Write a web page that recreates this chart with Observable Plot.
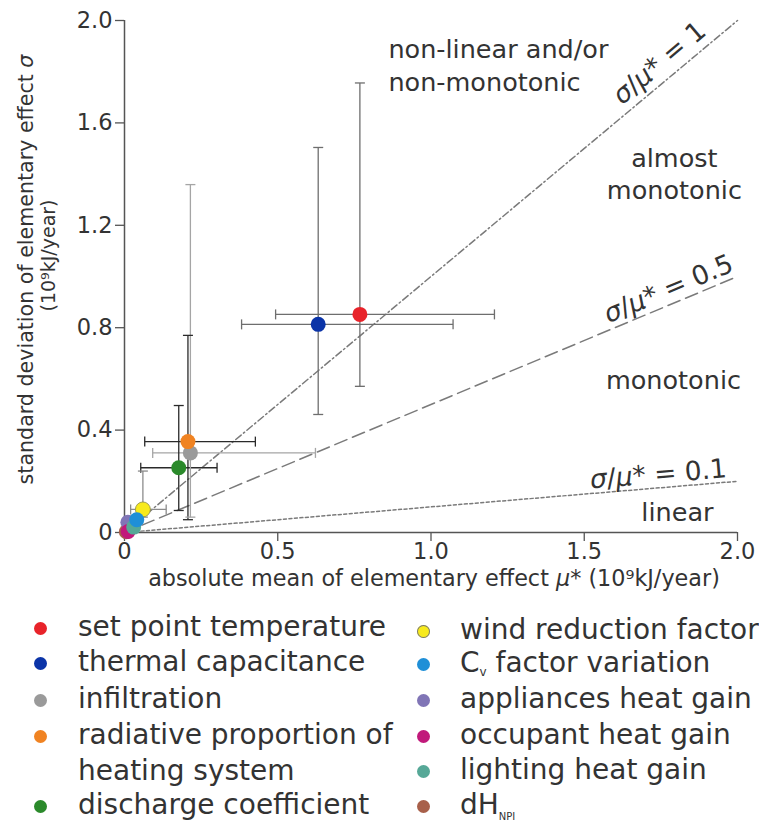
<!DOCTYPE html>
<html>
<head>
<meta charset="utf-8">
<script src="https://cdn.jsdelivr.net/npm/d3@7"></script>
<script src="https://cdn.jsdelivr.net/npm/@observablehq/plot@0.6"></script>
<style>
  html, body { margin: 0; padding: 0; background: #fff; }
  body { width: 759px; height: 823px; overflow: hidden; font-family: "DejaVu Sans", sans-serif; color: #333; }
  #legend { position: relative; width: 759px; height: 223px; }
  .item { position: absolute; height: 36px; line-height: 36px; font-size: 28px; white-space: nowrap; color: #333; }
  .mk { position: absolute; width: 13px; height: 13px; border-radius: 50%; }
  sub.s { font-size: 12px; vertical-align: -4px; }
  sub.t { font-size: 10px; vertical-align: -6px; }
</style>
</head>
<body>
<div id="chart"></div>
<div id="legend"></div>
<script>
// ---- data ----
const names = ["set point temperature", "thermal capacitance", "infiltration",
  "radiative proportion of heating system", "discharge coefficient",
  "wind reduction factor", "Cv factor variation", "appliances heat gain",
  "occupant heat gain", "lighting heat gain", "dH_NPI"];
const colors = ["#e8232a", "#0b34a8", "#9a9a9a", "#f08322", "#2b8a2b",
  "#f7ea1c", "#1f8fd7", "#8075b6", "#c1197b", "#56a897", "#a8604a"];
const muStar = [0.768, 0.632, 0.215, 0.207, 0.177, 0.060, 0.040, 0.011, 0.012, 0.030, 0.006];
const sigma  = [0.852, 0.813, 0.311, 0.355, 0.253, 0.090, 0.050, 0.040, 0.004, 0.021, 0.003];
const muLo   = [0.493, 0.382, 0.092, 0.066, 0.053, 0.020, null, null, null, null, null];
const muHi   = [1.207, 1.072, 0.623, 0.427, 0.302, 0.136, null, null, null, null, null];
const sigLo  = [0.571, 0.461, 0.060, 0.050, 0.086, 0.060, null, null, null, null, null];
const sigHi  = [1.756, 1.504, 1.359, 0.770, 0.496, 0.240, null, null, null, null, null];
const errColors = ["#6e6e6e", "#6e6e6e", "#a5a5a5", "#2a2a2a", "#2a2a2a", "#8c8c8c", null, null, null, null, null];
const drawOrder = [10, 0, 1, 2, 3, 4, 5, 7, 8, 9, 6];

const xTicks = [0, 0.5, 1, 1.5, 2];
const yTicks = [0, 0.4, 0.8, 1.2, 1.6, 2];

const ratios = [1, 0.5, 0.1];
const ratioLabels = ["σ/μ* = 1", "σ/μ* = 0.5", "σ/μ* = 0.1"];
const ratioLabelX = [1.745, 1.775, 1.742];
const ratioLabelY = [1.834, 0.951, 0.227];

const regionText = ["non-linear and/or", "non-monotonic", "almost", "monotonic", "monotonic", "linear"];
const regionX = [0.861, 0.861, 1.794, 1.794, 1.791, 1.804];
const regionY = [1.887, 1.758, 1.461, 1.336, 0.594, 0.078];
const regionStart = [true, true, false, false, false, false];

const xTitle = "absolute mean of elementary effect μ* (10⁹kJ/year)";
const yTitle1 = "standard deviation of elementary effect σ";
const yTitle2 = "(10⁹kJ/year)";

// ---- tables ----
const points = drawOrder.map(i => ({name: names[i], x: muStar[i], y: sigma[i], c: colors[i], yellow: i === 5}));
const errs = names.map((n, i) => ({i, x: muStar[i], y: sigma[i], xl: muLo[i], xh: muHi[i], yl: sigLo[i], yh: sigHi[i], c: errColors[i]}))
  .filter(d => d.xl != null);
const capsX = errs.flatMap(d => [{x: d.xl, y: d.y, c: d.c}, {x: d.xh, y: d.y, c: d.c}]);
const capsY = errs.flatMap(d => [{x: d.x, y: d.yl, c: d.c}, {x: d.x, y: d.yh, c: d.c}]);
const refLines = ratios.flatMap((r, k) => [{k, x: 0, y: 0}, {k, x: 2, y: 2 * r}]);
const ratioLab = ratioLabels.map((t, k) => ({t, x: ratioLabelX[k], y: ratioLabelY[k], k}));
const regions = regionText.map((t, k) => ({t, x: regionX[k], y: regionY[k], start: regionStart[k]}));

const vbar = {draw(ctx, size) { const r = Math.sqrt(size / Math.PI); ctx.moveTo(0, -r); ctx.lineTo(0, r); }};
const hbar = {draw(ctx, size) { const r = Math.sqrt(size / Math.PI); ctx.moveTo(-r, 0); ctx.lineTo(r, 0); }};
const fmt = d => d === 0 ? "0" : d.toFixed(1);

const dashes = ["7,3,1.5,3", "13,6", "3,2.5"];
const angles = [-40, -22.7, -4.8];

const chart = Plot.plot({
  width: 759, height: 600,
  marginLeft: 124, marginRight: 22, marginTop: 20, marginBottom: 68,
  x: {domain: [0, 2], label: null},
  y: {domain: [0, 2], label: null},
  style: {fontFamily: "DejaVu Sans", color: "#333", background: "white", overflow: "visible"},
  marks: [
    Plot.axisX({ticks: xTicks, tickFormat: fmt, tickSize: 9, tickPadding: 2, fontSize: 22.5, label: null, stroke: "#555", strokeWidth: 1.3}),
    Plot.axisY({ticks: yTicks, tickFormat: fmt, tickSize: 9, tickPadding: 3, fontSize: 22.5, label: null, stroke: "#555", strokeWidth: 1.3}),
    Plot.ruleX([0], {stroke: "#555", strokeWidth: 1.5}),
    Plot.ruleY([0], {stroke: "#555", strokeWidth: 1.5}),
    ...ratios.map((r, k) => Plot.line(refLines.filter(d => d.k === k), {x: "x", y: "y", stroke: "#7a7a7a", strokeWidth: 1.5, strokeDasharray: dashes[k]})),
    Plot.link(errs, {x1: "xl", x2: "xh", y1: "y", y2: "y", stroke: "c", strokeWidth: 1.3}),
    Plot.link(errs, {x1: "x", x2: "x", y1: "yl", y2: "yh", stroke: "c", strokeWidth: 1.3}),
    Plot.dot(capsX, {x: "x", y: "y", symbol: vbar, r: 5, stroke: "c", fill: "none", strokeWidth: 1.3}),
    Plot.dot(capsY, {x: "x", y: "y", symbol: hbar, r: 5, stroke: "c", fill: "none", strokeWidth: 1.3}),
    Plot.dot(points, {x: "x", y: "y", fill: "c", r: 7.5, stroke: d => d.yellow ? "#8a8a4a" : "none", strokeWidth: 0.8}),
    ...ratioLab.map(d => Plot.text([d], {x: "x", y: "y", text: "t", rotate: angles[d.k], fontSize: 26.5, fill: "#333"})),
    Plot.text(regions.filter(d => d.start), {x: "x", y: "y", text: "t", textAnchor: "start", fontSize: 25.5, fill: "#333"}),
    Plot.text(regions.filter(d => !d.start), {x: "x", y: "y", text: "t", textAnchor: "middle", fontSize: 25.5, fill: "#333"}),
    Plot.text([xTitle], {frameAnchor: "bottom", lineAnchor: "middle", dy: 46, dx: 3, fontSize: 22.3, fill: "#333"}),
    Plot.text([yTitle1], {frameAnchor: "left", textAnchor: "middle", lineAnchor: "middle", dx: -98, dy: -7, rotate: -90, fontSize: 20.6, fill: "#333"}),
    Plot.text([yTitle2], {frameAnchor: "left", textAnchor: "middle", lineAnchor: "middle", dx: -76, dy: -21, rotate: -90, fontSize: 19, fill: "#333"})
  ]
});
document.getElementById("chart").append(chart);

// italic sigma / mu
chart.querySelectorAll("text").forEach(t => {
  if (t.querySelector("tspan")) return;
  const s = t.textContent;
  if (/[σμ]/.test(s)) {
    t.textContent = "";
    for (const part of s.split(/([σμ])/)) {
      if (!part) continue;
      const ts = document.createElementNS("http://www.w3.org/2000/svg", "tspan");
      ts.textContent = part;
      if (part === "σ" || part === "μ") ts.setAttribute("font-style", "italic");
      t.appendChild(ts);
    }
  }
});

// ---- legend ----
const legendCol = [0, 0, 0, 0, 0, 1, 1, 1, 1, 1, 1];
const legendRowY = [628, 663, 700, 736, 806, 631, 664, 700, 736, 771, 806];
const legendHTML = [
  "set point temperature", "thermal capacitance", "infiltration",
  "radiative proportion of<br>heating system", "discharge coefficient",
  "wind reduction factor", "C<sub class='s'>v</sub> factor variation", "appliances heat gain",
  "occupant heat gain", "lighting heat gain", "dH<sub class='t'>NPI</sub>"];
const colMarkX = [40, 423];
const colTextX = [78, 460];
const leg = document.getElementById("legend");
names.forEach((n, i) => {
  const col = legendCol[i];
  const cy = legendRowY[i] - 600;
  const mk = document.createElement("div");
  mk.className = "mk";
  mk.style.left = (colMarkX[col] - 6.5) + "px";
  mk.style.top = (cy - 6.5) + "px";
  mk.style.background = colors[i];
  if (i === 5) mk.style.boxShadow = "0 0 0 1px #777 inset";
  leg.appendChild(mk);
  const it = document.createElement("div");
  it.className = "item";
  it.style.left = colTextX[col] + "px";
  it.style.top = (cy - 19) + "px";
  it.innerHTML = legendHTML[i];
  leg.appendChild(it);
});
</script>
</body>
</html>
